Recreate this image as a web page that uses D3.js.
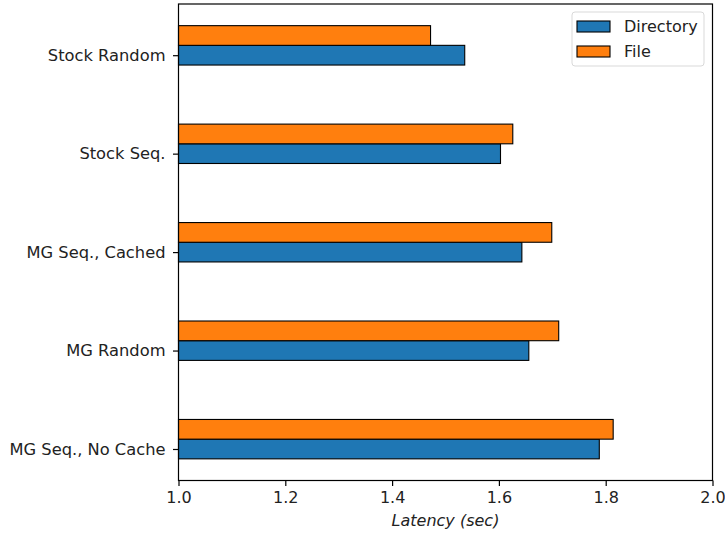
<!DOCTYPE html>
<html>
<head>
<meta charset="utf-8">
<script src="https://cdn.jsdelivr.net/npm/d3@7"></script>
<style>
  body { margin: 0; background: #fff; }
  svg { display: block; font-family: "DejaVu Sans", sans-serif; }
</style>
</head>
<body>
<svg id="chart" width="725" height="534"></svg>
<script>
// Categories, bottom to top
const categories = ["MG Seq., No Cache", "MG Random", "MG Seq., Cached", "Stock Seq.", "Stock Random"];
const directoryLatency = [1.788, 1.656, 1.643, 1.603, 1.536];
const fileLatency = [1.814, 1.712, 1.699, 1.626, 1.472];
const seriesNames = ["Directory", "File"];
const seriesColors = ["#1f77b4", "#ff7f0e"];
const xTicks = [1.0, 1.2, 1.4, 1.6, 1.8, 2.0];

const svg = d3.select("#chart");
const plotLeft = 178.5, plotRight = 712.5, plotTop = 4, plotBottom = 480.5;
const barH = 0.2;
const fontPx = "16px";

const x = d3.scaleLinear().domain([1.0, 2.0]).range([plotLeft, plotRight]);
// numeric category position, with 5% margins around the bar extent
const yMin = -barH / 2, yMax = (categories.length - 1) + barH + barH / 2;
const pad = (yMax - yMin) * 0.05;
const y = d3.scaleLinear().domain([yMin - pad, yMax + pad]).range([plotBottom, plotTop]);

const series = [directoryLatency, fileLatency];
const g = svg.append("g");
series.forEach((vals, s) => {
  g.selectAll(null).data(vals).enter().append("rect")
    .attr("x", x(1.0))
    .attr("y", (d, i) => y(i + s * barH + barH / 2))
    .attr("width", d => x(d) - x(1.0))
    .attr("height", y(0) - y(barH))
    .attr("fill", seriesColors[s])
    .attr("stroke", "#000")
    .attr("stroke-width", 1.1);
});

// frame
svg.append("rect").attr("x", plotLeft).attr("y", plotTop)
  .attr("width", plotRight - plotLeft).attr("height", plotBottom - plotTop)
  .attr("fill", "none").attr("stroke", "#000").attr("stroke-width", 1.2);

// x axis
const xAxis = svg.append("g").attr("transform", `translate(0,${plotBottom})`)
  .call(d3.axisBottom(x).tickValues(xTicks).tickFormat(d3.format(".1f")).tickSize(5.5).tickPadding(5.5));
xAxis.select(".domain").remove();
xAxis.selectAll("text").attr("font-size", fontPx).attr("fill", "#222").attr("font-family", "DejaVu Sans");
xAxis.selectAll("line").attr("stroke", "#000").attr("stroke-width", 1.2);

// y axis
const yAxis = svg.append("g").attr("transform", `translate(${plotLeft},0)`)
  .call(d3.axisLeft(y).tickValues(d3.range(categories.length)).tickFormat(i => categories[i]).tickSize(5.5).tickPadding(7.5));
yAxis.select(".domain").remove();
yAxis.selectAll("text").attr("font-size", "16.3px").attr("fill", "#222").attr("font-family", "DejaVu Sans");
yAxis.selectAll("line").attr("stroke", "#000").attr("stroke-width", 1.2);

// x axis title
svg.append("text").attr("x", (plotLeft + plotRight) / 2).attr("y", 526)
  .attr("text-anchor", "middle").attr("font-size", fontPx).attr("font-style", "italic")
  .attr("fill", "#222").text("Latency (sec)");

// legend
const lg = svg.append("g");
lg.append("rect").attr("x", 572).attr("y", 12).attr("width", 132).attr("height", 54)
  .attr("rx", 3).attr("fill", "#fff").attr("fill-opacity", 0.8).attr("stroke", "#d9d9d9");
seriesNames.forEach((name, i) => {
  const cy = 26.5 + i * 25;
  lg.append("rect").attr("x", 577).attr("y", cy - 5.5).attr("width", 33).attr("height", 11)
    .attr("fill", seriesColors[i]).attr("stroke", "#000").attr("stroke-width", 1.1);
  lg.append("text").attr("x", 624).attr("y", cy).attr("dy", "0.35em")
    .attr("font-size", fontPx).attr("fill", "#222").text(name);
});
</script>
</body>
</html>
